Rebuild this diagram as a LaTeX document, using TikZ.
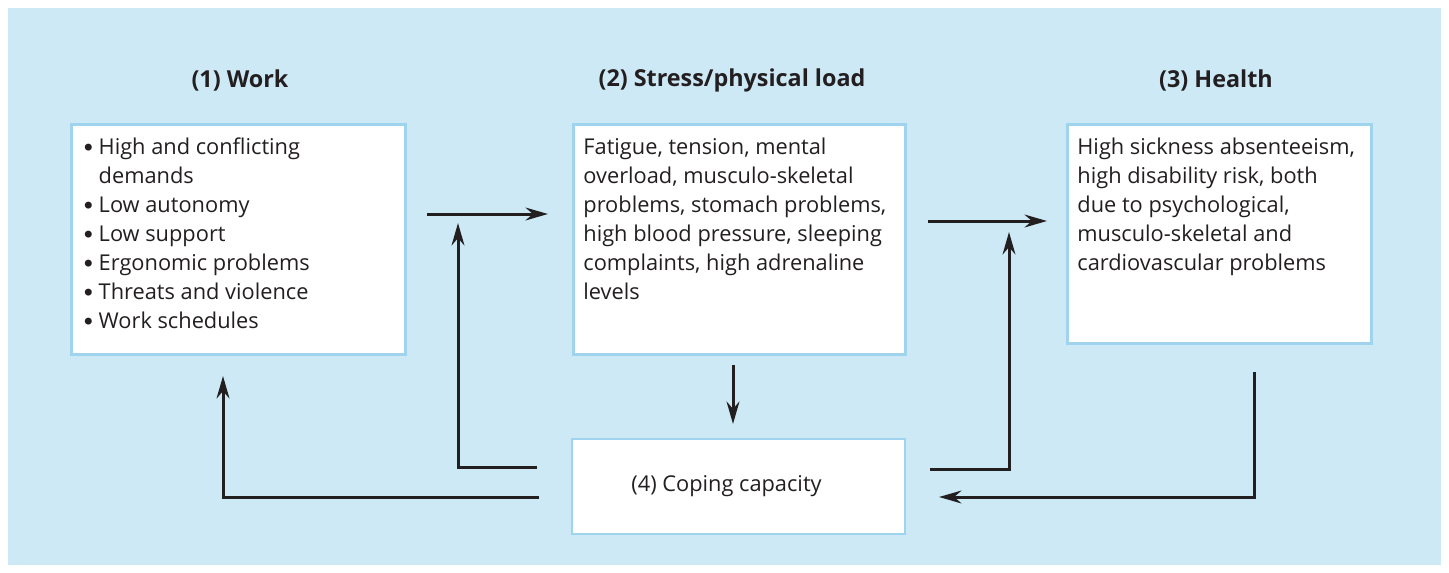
\documentclass[tikz,border=0pt]{standalone}
\usepackage{fontspec}
\setmainfont{Open Sans}
\newfontfamily\dotfont{DejaVu Sans}
\usepackage{xcolor}
\usetikzlibrary{arrows.meta,positioning,calc}

\definecolor{panelblue}{HTML}{CCE9F5}
\definecolor{edgeblue}{HTML}{9FD3EE}
\definecolor{inkgray}{HTML}{231F20}

\newcommand{\blt}{\raisebox{-1.2pt}{\dotfont\fontsize{17}{20}\selectfont •}\hspace{0.08cm}}

\begin{document}
\begin{tikzpicture}[
    x=0.025cm, y=-0.025cm,
    box/.style={rectangle, draw=edgeblue, line width=0.07cm, fill=white, anchor=north west, inner sep=0.25cm, text=inkgray, font=\fontsize{15.5}{20.6}\selectfont},
    head/.style={text=inkgray, font=\fontsize{16.6}{20.6}\selectfont\bfseries},
    arr/.style={-{Stealth[length=0.56cm, width=0.32cm]}, line width=0.075cm, draw=inkgray}
]
    \useasboundingbox (0,0) rectangle (1449,573);
    \fill[white] (0,0) rectangle (1449,573);
    \fill[panelblue] (8,8) rectangle (1441,565);

    % headings
    \node[head] (hwork) at (240,80) {(1) Work};
    \node[head] (hstress) at (732,80) {(2) Stress/physical load};
    \node[head] (hhealth) at (1216,80) {(3) Health};

    % boxes
    \node[box] (work) at (70,123) {\parbox[t][5.25cm][t]{7.85cm}{\raggedright\strut\blt High and conflicting\\
        \phantom{\blt}demands\\
        \blt Low autonomy\\
        \blt Low support\\
        \blt Ergonomic problems\\
        \blt Threats and violence\\
        \blt Work schedules}};
    \node[box] (stress) at (572,123) {\parbox[t][5.25cm][t]{7.8cm}{\raggedright\strut Fatigue, tension, mental\\
        overload, musculo-skeletal\\
        problems, stomach problems,\\
        high blood pressure, sleeping\\
        complaints, high adrenaline\\
        levels}};
    \node[box] (health) at (1066,123) {\parbox[t][4.975cm][t]{7.1cm}{\raggedright\strut\mbox{High sickness absenteeism,}\\
        high disability risk, both\\
        due to psychological,\\
        musculo-skeletal and\\
        cardiovascular problems}};
    \node[box, anchor=center, minimum width=8.325cm, minimum height=2.375cm] (coping) at (738.5,486.5) {\hspace*{-0.6cm}(4) Coping capacity};

    % free ends of the connectors
    \coordinate (ws1) at (427,214);
    \coordinate (ws2) at (548,214);
    \coordinate (sh1) at (928,221);
    \coordinate (sh2) at (1047,221);
    \coordinate (sc1) at (733,365);
    \coordinate (sc2) at (733,424);
    \coordinate (cs1) at (537,467);
    \coordinate (cs2) at (458,223);
    \coordinate (cw1) at (539,497);
    \coordinate (cw2) at (223,376);
    \coordinate (ch1) at (930,469);
    \coordinate (ch2) at (1009,232);
    \coordinate (hc1) at (1254,372);
    \coordinate (hc2) at (939,497);

    % connectors
    \draw[arr] (ws1) -- (ws2);
    \draw[arr] (sh1) -- (sh2);
    \draw[arr] (sc1) -- (sc2);
    \draw[arr] (cs1) -| (cs2);
    \draw[arr] (cw1) -| (cw2);
    \draw[arr] (ch1) -| (ch2);
    \draw[arr] (hc1) |- (hc2);
\end{tikzpicture}
\end{document}
